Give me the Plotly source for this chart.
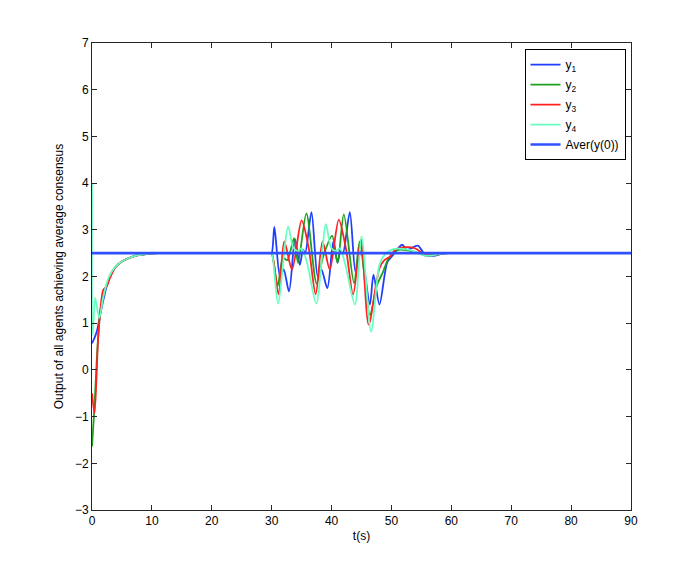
import plotly.graph_objects as go

# ---- data ----
t1 = [0, 0.4, 0.8, 1.2, 1.9, 2.75, 3.9, 5, 6.1, 7.5, 9, 11, 14, 18, 22, 26, 29.7, 30,
      30.45, 31.4, 32.0, 32.9, 33.9, 34.7, 35.25, 35.6, 36.65, 37.7, 38.3, 39.3,
      40.3, 41.0, 41.5, 41.9, 43.05, 44.0, 44.9, 46.4, 47.0, 48.0, 49.3, 50.2,
      51.8, 52.6, 54.4, 55.6, 57.0, 58.6, 60, 63, 67, 72, 78, 84, 90]
y1 = [0.57, 0.68, 0.82, 1.07, 1.5, 1.92, 2.2, 2.32, 2.39, 2.45, 2.48, 2.5, 2.5, 2.5, 2.5, 2.5, 2.5, 2.5,
      3.06, 2.0, 2.15, 1.68, 2.8, 2.25, 2.57, 2.5, 3.38, 2.0, 2.15, 1.75,
      2.75, 2.3, 2.55, 2.5, 3.38, 2.1, 2.55, 1.4, 2.04, 1.4, 2.3, 2.45,
      2.68, 2.57, 2.66, 2.47, 2.44, 2.49, 2.5, 2.5, 2.5, 2.5, 2.5, 2.5, 2.5]

t2 = [0, 0.42, 0.8, 1.36, 1.9, 2.75, 3.9, 5, 6.1, 7.5, 9, 11, 14, 18, 22, 26, 29.7, 30,
      31.0, 31.9, 32.6, 33.75, 34.4, 35.8, 37.5, 38.6, 40.1, 41.0, 42.05,
      43.75, 44.7, 46.4, 47.6, 48.6, 49.5, 51.1, 53.6, 55.6, 56.7, 59, 62, 66, 72, 78, 84, 90]
y2 = [-1.64, -0.78, 0.22, 1.22, 1.6, 1.92, 2.2, 2.32, 2.39, 2.45, 2.48, 2.5, 2.5, 2.5, 2.5, 2.5, 2.5, 2.5,
      1.8, 2.4, 2.35, 2.82, 2.29, 3.35, 1.85, 2.43, 2.87, 2.29, 3.33,
      1.86, 2.75, 1.18, 1.82, 2.1, 2.38, 2.57, 2.54, 2.45, 2.45, 2.5, 2.5, 2.5, 2.5, 2.5, 2.5, 2.5]

t3 = [0, 0.42, 1.08, 1.9, 2.47, 3.0, 3.9, 5, 6.1, 7.5, 9, 11, 14, 18, 22, 26, 29.7, 30,
      31.15, 32.1, 33.4, 35.0, 36.2, 37.35, 38.5, 39.7, 41.2,
      42.4, 43.6, 44.9, 46.2, 48.0, 48.9, 49.7, 50.6, 52.5, 54.0, 55.6, 57, 59, 62, 66, 72, 78, 84, 90]
y3 = [-0.5, -0.93, 0.79, 1.72, 1.79, 1.97, 2.2, 2.32, 2.39, 2.45, 2.48, 2.5, 2.5, 2.5, 2.5, 2.5, 2.5, 2.5,
      1.62, 2.75, 2.15, 3.2, 2.6, 1.62, 2.75, 2.15, 3.22,
      2.6, 1.61, 2.79, 0.97, 2.18, 2.36, 2.42, 2.57, 2.63, 2.6, 2.47, 2.46, 2.5, 2.5, 2.5, 2.5, 2.5, 2.5, 2.5]

t4 = [0, 0.12, 0.53, 1.2, 1.9, 2.75, 3.9, 5, 6.1, 7.5, 9, 11, 14, 18, 22, 26, 29.7, 30,
      31.05, 32.75, 33.6, 34.3, 35.0, 35.9, 37.45, 39.05, 39.9, 40.6, 41.4, 42.3,
      43.9, 45.0, 46.6, 48.0, 48.9, 50.5, 53, 55.6, 56.7, 59, 62, 66, 72, 78, 84, 90]
y4 = [4.0, 0.75, 1.54, 1.11, 1.57, 1.97, 2.21, 2.32, 2.39, 2.45, 2.48, 2.5, 2.5, 2.5, 2.5, 2.5, 2.5, 2.5,
      1.42, 3.07, 2.62, 2.55, 2.6, 2.3, 1.42, 3.12, 2.62, 2.55, 2.6, 2.25,
      1.4, 2.86, 0.82, 2.25, 2.47, 2.59, 2.57, 2.45, 2.45, 2.5, 2.5, 2.5, 2.5, 2.5, 2.5, 2.5]

t_aver = [0, 90]
y_aver = [2.5, 2.5]

names = ["y<sub>1</sub>", "y<sub>2</sub>", "y<sub>3</sub>", "y<sub>4</sub>", "Aver(y(0))"]
colors = ["#1f3fff", "#1fa01f", "#ff2020", "#66ffc0", "#3050ff"]

fig = go.Figure()
for i, (t, y, n, c) in enumerate(zip([t1, t2, t3, t4], [y1, y2, y3, y4], names[:4], colors[:4])):
    fig.add_trace(go.Scatter(x=t, y=y, mode="lines", name=n, legendgroup=f"g{i}",
                             line=dict(color=c, width=1.8, shape="spline", smoothing=0.8)))
fig.add_trace(go.Scatter(x=t_aver, y=y_aver, mode="lines", name=names[4], legendgroup="g4",
                         line=dict(color=colors[4], width=2.6)))

axis_common = dict(showline=True, linecolor="#262626", linewidth=1, mirror="ticks",
                   ticks="inside", ticklen=5, tickcolor="#262626", showgrid=False,
                   zeroline=False, tickfont=dict(family="Liberation Sans, Arial", size=12, color="black"))

fig.update_layout(
    width=698, height=575,
    margin=dict(l=83.5, r=74.5, t=35.3, b=73, autoexpand=False),
    paper_bgcolor="white", plot_bgcolor="white",
    font=dict(family="Liberation Sans, Arial", size=12, color="black"),
    xaxis=dict(range=[0, 90], tickvals=list(range(0, 91, 10)),
               title=dict(text="t(s)", standoff=4, font=dict(size=12)), **axis_common),
    yaxis=dict(range=[-3, 7], tickvals=list(range(-3, 8)),
               title=dict(text="Output of all agents achieving average consensus", standoff=8,
                          font=dict(size=12)), **axis_common),
    legend=dict(x=0.9898, y=0.987, xanchor="right", yanchor="top",
                bordercolor="black", borderwidth=1, bgcolor="white",
                font=dict(family="Liberation Sans, Arial", size=12, color="black"),
                tracegroupgap=1, itemwidth=30),
    showlegend=True,
)

fig.write_html("out.html")
